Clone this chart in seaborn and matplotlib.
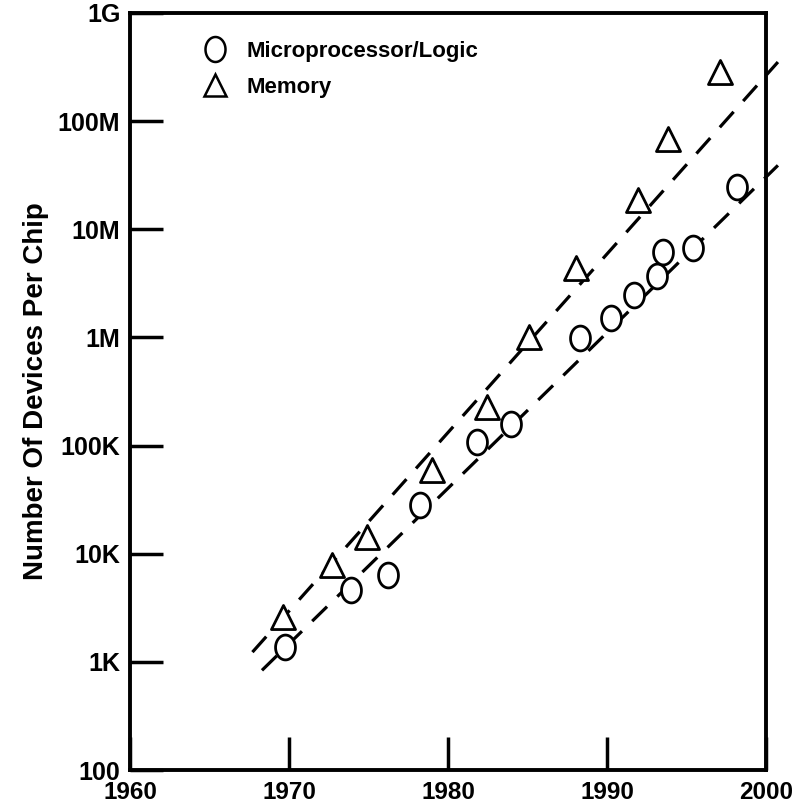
import matplotlib
matplotlib.use("Agg")
import matplotlib.pyplot as plt
import seaborn as sns
import pandas as pd
import numpy as np
from matplotlib.lines import Line2D
from matplotlib.path import Path

# ---- data ----
micro_years = [1969.75, 1973.9, 1976.2, 1978.25, 1981.8, 1983.95, 1988.3,
               1990.25, 1991.7, 1993.15, 1993.5, 1995.4, 1998.2]
micro_counts = [1365, 4590, 6330, 28100, 107000, 158000, 986000,
                1.51e6, 2.46e6, 3.69e6, 6.15e6, 6.7e6, 24.5e6]

memory_years = [1969.6, 1972.7, 1974.9, 1979.0, 1982.45, 1985.1, 1988.05,
                1991.95, 1993.84, 1997.1]
memory_counts = [2590, 7830, 14200, 59200, 226000, 1.0e6, 4.37e6,
                 18.6e6, 68e6, 284e6]

# trend lines (endpoints)
micro_trend_years = [1968.3, 2000.75]
micro_trend_counts = [835, 39e6]
memory_trend_years = [1967.7, 2000.75]
memory_trend_counts = [1230, 352e6]

x_ticks = [1960, 1970, 1980, 1990, 2000]
x_labels = ["1960", "1970", "1980", "1990", "2000"]
y_ticks = [1e2, 1e3, 1e4, 1e5, 1e6, 1e7, 1e8, 1e9]
y_labels = ["100", "1K", "10K", "100K", "1M", "10M", "100M", "1G"]

series_names = ["Microprocessor/Logic", "Memory"]
y_title = "Number Of Devices Per Chip"

# ---- build tables ----
pts = pd.DataFrame({
    "year": micro_years + memory_years,
    "count": micro_counts + memory_counts,
    "kind": [series_names[0]] * len(micro_years) + [series_names[1]] * len(memory_years),
})
trend_micro = pd.DataFrame({"year": micro_trend_years, "count": micro_trend_counts})
trend_mem = pd.DataFrame({"year": memory_trend_years, "count": memory_trend_counts})

sns.set_style("ticks")
plt.rcParams["font.family"] = ["Liberation Sans", "DejaVu Sans"]
plt.rcParams["font.weight"] = "bold"
plt.rcParams["text.color"] = "black"
plt.rcParams["axes.labelcolor"] = "black"
plt.rcParams["xtick.color"] = "black"
plt.rcParams["ytick.color"] = "black"
plt.rcParams["axes.edgecolor"] = "black"

# tall ellipse marker like the hand-drawn circles
t = np.linspace(0, 2 * np.pi, 60)
ellipse = Path(np.column_stack([0.80 * np.cos(t), np.sin(t)]), closed=True)

fig = plt.figure(figsize=(7.93, 8.09), dpi=100)
ax = fig.add_axes([130 / 793, 39 / 809, 636 / 793, 757 / 809])
ax.set_yscale("log")

dash = (0, (6.5, 4.5))
for df in (trend_mem, trend_micro):
    sns.lineplot(data=df, x="year", y="count", ax=ax, color="black",
                 linewidth=2.3, linestyle="--", legend=False)
for ln in ax.lines:
    ln.set_linestyle(dash)
    ln.set_clip_on(False)

sns.scatterplot(data=pts[pts.kind == series_names[0]], x="year", y="count",
                ax=ax, marker=ellipse, s=320, facecolor="white",
                edgecolor="black", linewidth=2.0, legend=False, zorder=3)
sns.scatterplot(data=pts[pts.kind == series_names[1]], x="year", y="count",
                ax=ax, marker="^", s=300, facecolor="white",
                edgecolor="black", linewidth=2.0, legend=False, zorder=3)

ax.set_xlim(1960, 2000)
ax.set_ylim(1e2, 1e9)
ax.set_xticks(x_ticks)
ax.set_xticklabels(x_labels)
ax.set_yticks(y_ticks)
ax.set_yticklabels(y_labels)
ax.minorticks_off()
ax.tick_params(axis="both", direction="in", width=2.5, length=24,
               labelsize=18, pad=7, colors="black")
ax.tick_params(axis="x", pad=8, labelsize=17.5)
for lbl in ax.get_xticklabels() + ax.get_yticklabels():
    lbl.set_fontweight("bold")
for side in ["left", "right", "top", "bottom"]:
    ax.spines[side].set_visible(True)
    ax.spines[side].set_linewidth(2.8)
    ax.spines[side].set_color("black")
ax.set_xlabel("")
ax.set_ylabel(y_title, fontsize=20, fontweight="bold", labelpad=6)

handles = [
    Line2D([], [], marker=ellipse, linestyle="none", markersize=18,
           markerfacecolor="white", markeredgecolor="black", markeredgewidth=1.8),
    Line2D([], [], marker="^", linestyle="none", markersize=16,
           markerfacecolor="white", markeredgecolor="black", markeredgewidth=1.8),
]
leg = ax.legend(handles, series_names, loc="upper left",
                bbox_to_anchor=(0.085, 0.99), frameon=False,
                prop={"size": 16, "weight": "bold"},
                handletextpad=0.9, labelspacing=0.7, handlelength=1.0)

fig.savefig("out.png", dpi=100)
